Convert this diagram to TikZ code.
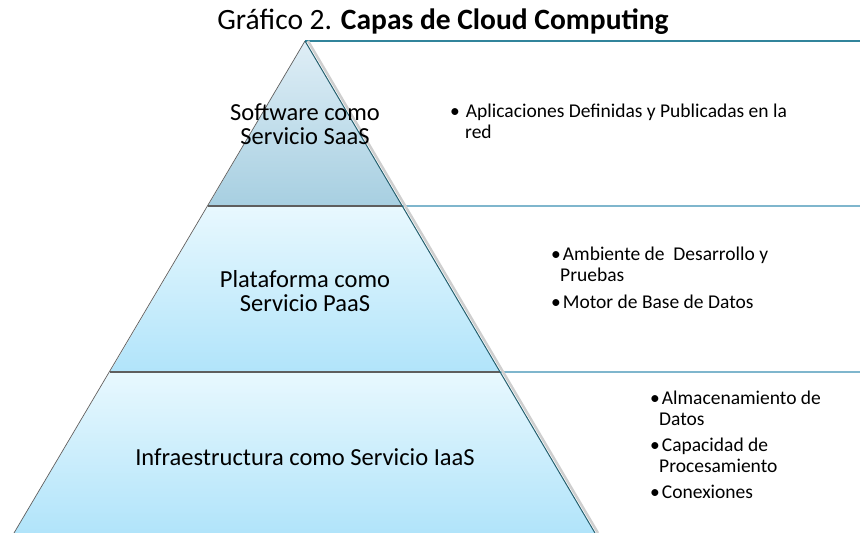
\documentclass[tikz,border=0pt]{standalone}
\usepackage{fontspec}
\setmainfont{Carlito}
\begin{document}
\begin{tikzpicture}[x=1pt,y=-1pt,
  lbl/.style={font=\fontsize{24.5}{24}\selectfont, align=center, inner sep=0pt},
  rtext/.style={font=\fontsize{19.5}{20.5}\selectfont, align=left, inner sep=0pt, anchor=base west},
  hline/.style={draw=lineblue, line width=1.4pt},
  divline/.style={draw=divgray, line width=1.4pt}]
\definecolor{topA}{HTML}{DFEEF6}
\definecolor{topB}{HTML}{A7CFE1}
\definecolor{midA}{HTML}{E8F8FE}
\definecolor{midB}{HTML}{B1E4FA}
\definecolor{lineteal}{HTML}{31849B}
\definecolor{lineblue}{HTML}{7FB6CD}
\definecolor{edgeteal}{HTML}{245F6E}
\definecolor{divgray}{HTML}{5E5E5E}
\definecolor{shadowgray}{HTML}{CFCFCF}
\useasboundingbox (0,0) rectangle (860,533);
% key points
\coordinate (apex) at (305,41);
\coordinate (l1) at (208,206);
\coordinate (r1) at (402,206);
\coordinate (l2) at (110,372);
\coordinate (r2) at (500,372);
\coordinate (l3) at (14,533);
\coordinate (r3) at (595,533);
\coordinate (e0) at (860,41);
\coordinate (e1) at (860,206);
\coordinate (e2) at (860,372);
% horizontal guide lines
\draw[draw=lineteal, line width=1.4pt] (apex) -- (e0);
\draw[hline] (r1) -- (e1);
\draw[hline] (r2) -- (e2);
% shadow of right edge
\draw[shadowgray, line width=2.5pt] ([xshift=3pt]apex) -- ([xshift=3pt]r3);
% layers
\path[top color=topA, bottom color=topB] (apex) -- (r1) -- (l1) -- cycle;
\path[top color=midA, bottom color=midB] (l1) -- (r1) -- (r2) -- (l2) -- cycle;
\path[top color=midA, bottom color=midB] (l2) -- (r2) -- (r3) -- (l3) -- cycle;
% dividers
\draw[divline] (l1) -- (r1);
\draw[divline] (l2) -- (r2);
% edges
\draw[divgray, line width=0.7pt] (l3) -- (apex);
\draw[edgeteal, line width=1pt] (apex) -- (r3);
% title
\node[font=\fontsize{29.5}{31}\selectfont, inner sep=0pt, anchor=base] (title) at (443,29) {Gráfico 2. \textbf{Capas de Cloud Computing}};
% layer labels
\node[lbl] (saas) at (305,124) {Software como\\Servicio SaaS};
\node[lbl] (paas) at (305,291) {Plataforma como\\Servicio PaaS};
\node[lbl] (iaas) at (305,457) {Infraestructura como Servicio IaaS};
% descriptions (base anchor = baseline of last line)
\node[rtext] (d1) at (450,138) {\textbullet\hspace{6pt}Aplicaciones Definidas y Publicadas en la\\\hspace{15pt}red};
\node[rtext] (d2a) at (551,281) {\textbullet\hspace{2pt}Ambiente de\ \ Desarrollo y\\\hspace{9pt}Pruebas};
\node[rtext] (d2b) at (551,308) {\textbullet\hspace{2pt}Motor de Base de Datos};
\node[rtext] (d3a) at (650,425) {\textbullet\hspace{2pt}Almacenamiento de\\\hspace{9pt}Datos};
\node[rtext] (d3b) at (650,472) {\textbullet\hspace{2pt}Capacidad de\\\hspace{9pt}Procesamiento};
\node[rtext] (d3c) at (650,498) {\textbullet\hspace{2pt}Conexiones};
\end{tikzpicture}
\end{document}
